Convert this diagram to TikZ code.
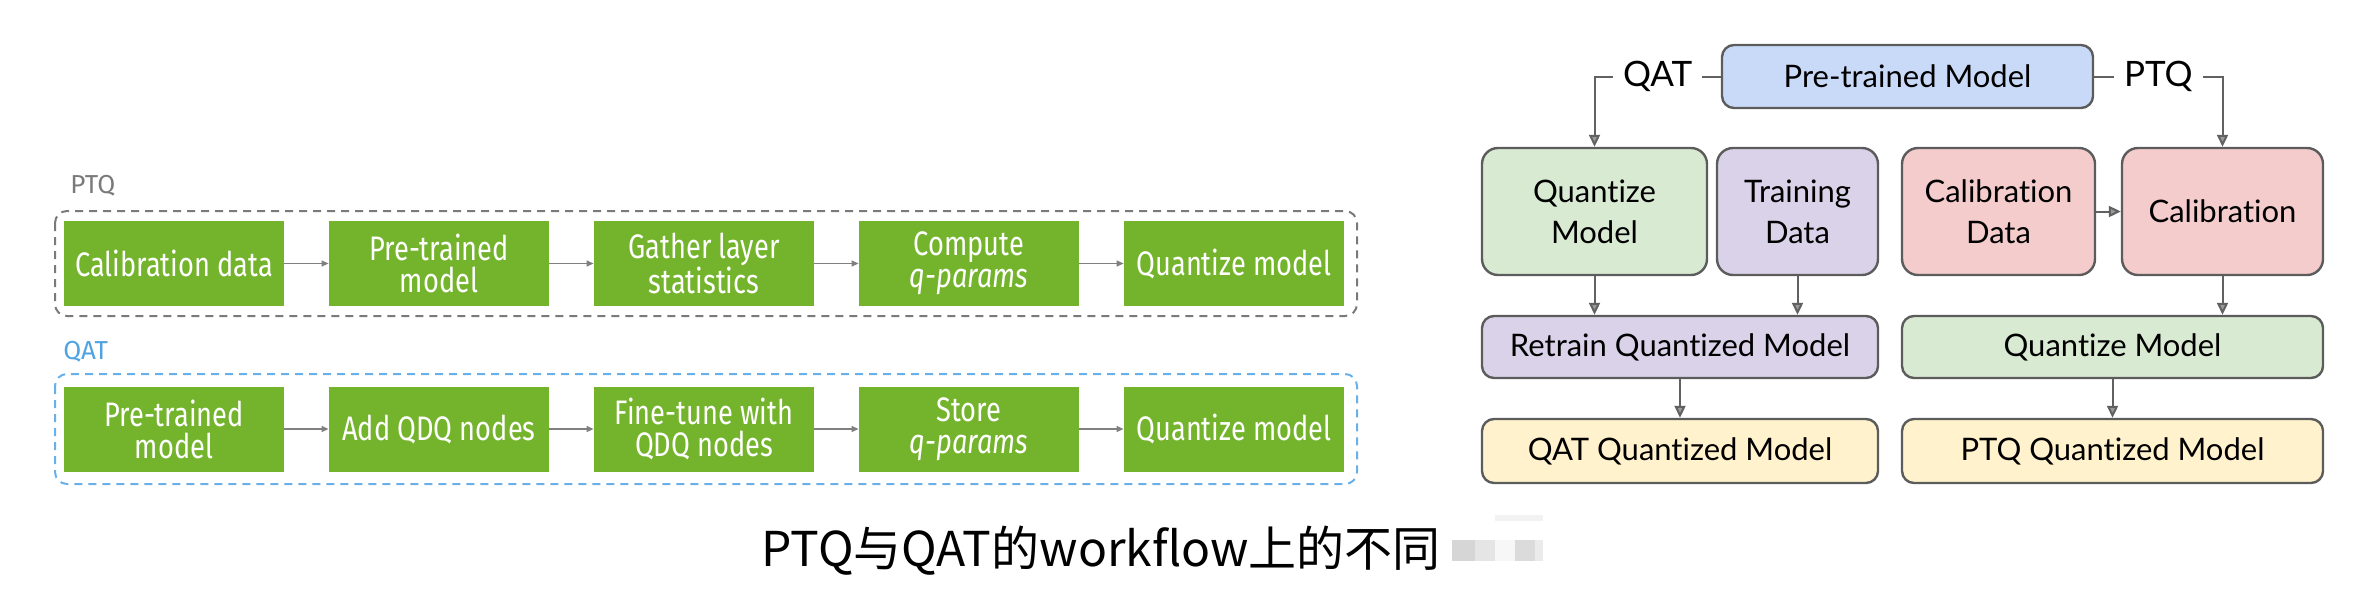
\documentclass[tikz,border=0pt]{standalone}
\usepackage{fontspec}
\setmainfont{Lato}[Ligatures=NoCommon]
\newfontfamily\nvfont{Fira Sans}[FakeStretch=0.8]
\newfontfamily\nvlab{Fira Sans}
\newfontfamily\cjkfont{Noto Sans CJK SC}
\usetikzlibrary{arrows.meta}
\definecolor{nvgreen}{HTML}{74B42C}
\definecolor{ptqgray}{HTML}{7A7A7A}
\definecolor{qatblue}{HTML}{4FA3E0}
\definecolor{qatdash}{HTML}{6AB0E8}
\definecolor{rblue}{HTML}{C9DAF8}
\definecolor{rgreen}{HTML}{D9EAD3}
\definecolor{rpurple}{HTML}{D9D2E9}
\definecolor{rred}{HTML}{F4CCCC}
\definecolor{ryellow}{HTML}{FFF2CC}
\definecolor{rborder}{HTML}{5C5C5C}
\begin{document}
\begin{tikzpicture}[x=0.5pt,y=-0.5pt,
  gbox/.style={fill=nvgreen, text=white, font=\nvfont\fontsize{17}{16}\selectfont,
    minimum width=110pt, minimum height=42.5pt, inner sep=0pt, align=center},
  garrow/.style={draw=black!50, line width=0.6pt, -{Triangle[length=3.5pt,width=3pt]}},
  frameline/.style={dash pattern=on 4pt off 3pt, line width=1pt, rounded corners=6pt},
  grouplabel/.style={font=\nvlab\fontsize{13}{13}\selectfont, anchor=base west, inner sep=0pt},
  rbox/.style={draw=rborder, line width=1.2pt, rounded corners=6pt,
    font=\fontsize{15.5}{20.5}\selectfont, align=center, inner sep=0pt},
  bigbox/.style={rbox, rounded corners=8pt, minimum height=63.5pt},
  flatbox/.style={rbox, minimum height=31pt},
  rarrow/.style={draw=black!62, line width=1pt, -{Triangle[length=6pt,width=5.5pt,fill=black!40]}},
  branch/.style={fill=white, font=\fontsize{17.5}{17.5}\selectfont, inner xsep=5pt, inner ysep=2pt}
]
\useasboundingbox (0,0) rectangle (2376,606);

% ---------- left: PTQ ----------
\node[grouplabel, text=ptqgray] (ptqlab) at (70,193) {PTQ};
\draw[frameline, draw=ptqgray] (55,211) rectangle (1357,316);
\node[gbox] (p1) at (174,263.5) {Calibration data};
\node[gbox] (p2) at (439,263.5) {Pre-trained\\model};
\node[gbox] (p3) at (704,263.5) {Gather layer\\statistics};
\node[gbox] (p4) at (969,263.5) {Compute\\\textit{q-params}};
\node[gbox] (p5) at (1234,263.5) {Quantize model};
\draw[garrow] (p1) -- (p2);
\draw[garrow] (p2) -- (p3);
\draw[garrow] (p3) -- (p4);
\draw[garrow] (p4) -- (p5);

% ---------- left: QAT ----------
\node[grouplabel, text=qatblue] (qatlab) at (63,359) {QAT};
\draw[frameline, draw=qatdash] (55,374) rectangle (1357,484);
\node[gbox] (q1) at (174,429) {Pre-trained\\model};
\node[gbox] (q2) at (439,429) {Add QDQ nodes};
\node[gbox] (q3) at (704,429) {Fine-tune with\\QDQ nodes};
\node[gbox] (q4) at (969,429) {Store\\\textit{q-params}};
\node[gbox] (q5) at (1234,429) {Quantize model};
\draw[garrow] (q1) -- (q2);
\draw[garrow] (q2) -- (q3);
\draw[garrow] (q3) -- (q4);
\draw[garrow] (q4) -- (q5);

% ---------- right ----------
\node[rbox, fill=rblue, minimum width=185.5pt, minimum height=31.5pt] (ptm) at (1907.5,76.5) {Pre-trained Model};
\node[bigbox, fill=rgreen, minimum width=112.5pt] (qm) at (1594.5,211.5) {Quantize\\Model};
\node[bigbox, fill=rpurple, minimum width=80.5pt] (td) at (1797.5,211.5) {Training\\Data};
\node[bigbox, fill=rred, minimum width=96.5pt] (cd) at (1998.5,211.5) {Calibration\\Data};
\node[bigbox, fill=rred, minimum width=100.5pt] (cal) at (2222.5,211.5) {Calibration};
\node[flatbox, fill=rpurple, minimum width=198pt] (rqm) at (1680,347) {Retrain Quantized Model};
\node[flatbox, fill=ryellow, minimum width=198pt, minimum height=32pt] (qqm) at (1680,451) {QAT Quantized Model};
\node[flatbox, fill=rgreen, minimum width=210.5pt] (pqz) at (2112.5,347) {Quantize Model};
\node[flatbox, fill=ryellow, minimum width=210.5pt, minimum height=32pt] (pqm) at (2112.5,451) {PTQ Quantized Model};

\draw[rarrow] (ptm.west) -| node[branch, pos=0.25] (qatbr) {QAT} (qm.north);
\draw[rarrow] (ptm.east) -| node[branch, pos=0.25] (ptqbr) {PTQ} (cal.north);
\draw[rarrow] (qm.south) -- (qm.south |- rqm.north);
\draw[rarrow] (td.south) -- (td.south |- rqm.north);
\draw[rarrow] (rqm.south) -- (qqm.north);
\draw[rarrow] (cd.east) -- (cal.west);
\draw[rarrow] (cal.south) -- (cal.south |- pqz.north);
\draw[rarrow] (pqz.south) -- (pqm.north);

% ---------- caption ----------
\node[font=\cjkfont\fontsize{24}{24}\selectfont, anchor=base west, inner sep=0pt] (caption) at (761,566) {PTQ与QAT的workflow上的不同};
\fill[black!16] (1452,540) rectangle (1475,561);
\fill[black!10] (1475,540) rectangle (1495,561);
\fill[black!3] (1495,540) rectangle (1515,561);
\fill[black!14] (1515,540) rectangle (1535,561);
\fill[black!8] (1535,540) rectangle (1543,561);
\fill[black!5] (1495,515) rectangle (1543,521);
\end{tikzpicture}
\end{document}
